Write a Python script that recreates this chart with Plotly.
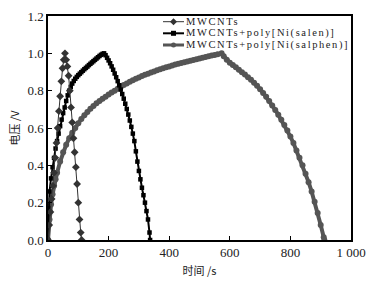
import plotly.graph_objects as go

# ---- data ----
mw_t = [0, 4, 8, 12, 16, 20, 24, 28, 32, 36, 40, 44, 48, 52, 56,
        60, 64, 68, 72, 76, 80, 84, 88, 92, 96, 100, 104, 108, 111]
mw_v = [0.0, 0.08, 0.15, 0.22, 0.29, 0.36, 0.44, 0.52, 0.60, 0.69, 0.77, 0.85, 0.92, 0.965, 1.0,
        0.965, 0.93, 0.88, 0.80, 0.71, 0.63, 0.545, 0.47, 0.39, 0.30, 0.20, 0.11, 0.04, 0.0]

salen_t = [0, 2, 5, 10, 15, 20, 25, 30, 35, 40, 45, 50, 55, 60, 65, 70, 75, 80, 85, 90,
           95, 100, 105, 110, 115, 120, 125, 130, 135, 140, 145, 150, 155, 160, 165, 170,
           175, 180, 185,
           190, 195, 200, 205, 210, 215, 220, 225, 230, 235, 240, 245, 250, 255, 260, 265,
           270, 275, 280, 285, 290, 295, 300, 305, 310, 315, 320, 325, 330, 335, 337]
salen_v = [0.0, 0.17, 0.26, 0.33, 0.39, 0.44, 0.49, 0.53, 0.57, 0.61, 0.645, 0.68, 0.71, 0.745,
           0.775, 0.80, 0.82, 0.838, 0.852, 0.864, 0.874, 0.883, 0.891, 0.899, 0.907, 0.915,
           0.922, 0.929, 0.937, 0.944, 0.951, 0.958, 0.965, 0.972, 0.979, 0.986, 0.992, 0.997, 1.0,
           0.99, 0.976, 0.962, 0.947, 0.93, 0.912, 0.892, 0.872, 0.851, 0.829, 0.806, 0.782,
           0.757, 0.73, 0.702, 0.672, 0.64, 0.606, 0.57, 0.53, 0.475, 0.42, 0.37, 0.325, 0.28,
           0.24, 0.20, 0.155, 0.11, 0.04, 0.0]

salphen_t = [0, 5, 10, 15, 20, 25, 30, 40, 50, 60, 70, 80, 90, 100, 110, 120, 130, 140, 150,
             160, 170, 180, 190, 200, 210, 220, 230, 240, 250, 260, 270, 280, 290, 300, 310,
             320, 330, 340, 350, 360, 370, 380, 390, 400, 410, 420, 430, 440, 450, 460, 470,
             480, 490, 500, 510, 520, 530, 540, 550, 560, 573,
             580, 590, 600, 610, 620, 630, 640, 650, 660, 670, 680, 690, 700, 710, 720, 730,
             740, 750, 760, 770, 780, 790, 800, 810, 820, 830, 840, 850, 860, 870, 880, 890,
             900, 910, 912]
salphen_v = [0.0, 0.11, 0.19, 0.245, 0.29, 0.325, 0.36, 0.42, 0.47, 0.51, 0.545, 0.575, 0.60,
             0.625, 0.648, 0.668, 0.686, 0.703, 0.718, 0.732, 0.745, 0.757, 0.768, 0.779, 0.79,
             0.80, 0.81, 0.82, 0.83, 0.839, 0.848, 0.856, 0.864, 0.871, 0.878, 0.885, 0.891,
             0.897, 0.903, 0.909, 0.915, 0.92, 0.925, 0.93, 0.935, 0.94, 0.944, 0.948, 0.952,
             0.956, 0.96, 0.964, 0.968, 0.972, 0.976, 0.98, 0.984, 0.988, 0.991, 0.995, 1.0,
             0.985, 0.965, 0.95, 0.937, 0.925, 0.912, 0.899, 0.886, 0.872, 0.858, 0.843, 0.827,
             0.808, 0.788, 0.767, 0.745, 0.721, 0.697, 0.671, 0.644, 0.616, 0.586, 0.554, 0.52,
             0.48, 0.44, 0.40, 0.355, 0.31, 0.26, 0.205, 0.145, 0.08, 0.015, 0.0]

series_names = ["MWCNTs", "MWCNTs+poly[Ni(salen)]", "MWCNTs+poly[Ni(salphen)]"]
x_ticks = [0, 200, 400, 600, 800, 1000]
x_ticktext = ["0", "200", "400", "600", "800", "1 000"]
y_ticks = [0.0, 0.2, 0.4, 0.6, 0.8, 1.0, 1.2]

SERIF = "Liberation Serif"
CJK = "Noto Sans CJK SC"
TXT = "#222222"

fig = go.Figure()
fig.add_trace(go.Scatter(x=salphen_t, y=salphen_v, mode="lines+markers", name=series_names[2],
                         line=dict(color="#555555", width=4),
                         marker=dict(symbol="circle", size=6, color="#555555")))
fig.add_trace(go.Scatter(x=salen_t, y=salen_v, mode="lines+markers", name=series_names[1],
                         line=dict(color="#000000", width=2),
                         marker=dict(symbol="square", size=4.5, color="#000000")))
fig.add_trace(go.Scatter(x=mw_t, y=mw_v, mode="lines+markers", name=series_names[0],
                         line=dict(color="#333333", width=1),
                         marker=dict(symbol="diamond", size=6, color="#333333")))

# plot area in pixels
L, R, T, B = 48, 351, 16, 240
W, H = 368, 282


def px(xp):
    return (xp - L) / (R - L)


def py(yp):
    return (B - yp) / (B - T)


shapes = []
annotations = []
rows = [21.7, 33.3, 45.0]
styles = [("#333333", "diamond", 1), ("#000000", "square", 2), ("#555555", "circle", 3)]
for (yy, name, (col, sym, lw)) in zip(rows, series_names, styles):
    shapes.append(dict(type="line", xref="paper", yref="paper",
                       x0=px(163), x1=px(184), y0=py(yy), y1=py(yy),
                       line=dict(color=col, width=lw)))
    cx, cy = px(173.5), py(yy)
    if sym == "diamond":
        dx, dy = 3.5 / (R - L), 3.5 / (B - T)
        shapes.append(dict(type="path", xref="paper", yref="paper",
                           path=f"M {cx-dx} {cy} L {cx} {cy+dy} L {cx+dx} {cy} L {cx} {cy-dy} Z",
                           fillcolor=col, line=dict(color=col, width=0)))
    elif sym == "square":
        dx, dy = 2.5 / (R - L), 2.5 / (B - T)
        shapes.append(dict(type="rect", xref="paper", yref="paper",
                           x0=cx - dx, x1=cx + dx, y0=cy - dy, y1=cy + dy,
                           fillcolor=col, line=dict(color=col, width=0)))
    else:
        dx, dy = 2.5 / (R - L), 2.5 / (B - T)
        shapes.append(dict(type="circle", xref="paper", yref="paper",
                           x0=cx - dx, x1=cx + dx, y0=cy - dy, y1=cy + dy,
                           fillcolor=col, line=dict(color=col, width=0)))
    annotations.append(dict(xref="paper", yref="paper", x=px(185), y=py(yy),
                            xanchor="left", yanchor="middle", showarrow=False,
                            borderpad=0,
                            text=f"<span style='letter-spacing:1.6px'>{name}</span>",
                            font=dict(family=SERIF, size=10.5, color=TXT)))

fig.update_layout(
    template="none",
    width=W, height=H,
    margin=dict(l=L, r=W - R, t=T, b=H - B, autoexpand=False),
    paper_bgcolor="white", plot_bgcolor="white",
    showlegend=False,
    shapes=shapes, annotations=annotations,
    font=dict(family=SERIF, size=13, color=TXT),
)
fig.update_xaxes(range=[0, 1000], tickvals=x_ticks, ticktext=x_ticktext, automargin=False,
                 ticks="inside", ticklen=4, tickwidth=1.2, tickcolor="#000",
                 showline=True, linecolor="#000", linewidth=1.5, mirror=True,
                 showgrid=False, zeroline=False,
                 tickfont=dict(family=SERIF, size=13, color=TXT),
                 title=dict(text="时间 /s", standoff=8,
                            font=dict(family=CJK, size=11, color=TXT)))
fig.update_yaxes(range=[0, 1.2], tickvals=y_ticks, tickformat=".1f", automargin=False,
                 ticks="inside", ticklen=4, tickwidth=1.2, tickcolor="#000",
                 showline=True, linecolor="#000", linewidth=1.5, mirror=True,
                 showgrid=False, zeroline=False,
                 tickfont=dict(family=SERIF, size=13, color=TXT),
                 title=dict(text="电压 /V", standoff=6,
                            font=dict(family=CJK, size=11, color=TXT)))

fig.write_html(
    "out.html",
    config={"displayModeBar": False},
    post_script="document.body.style.margin='0px';",
)
